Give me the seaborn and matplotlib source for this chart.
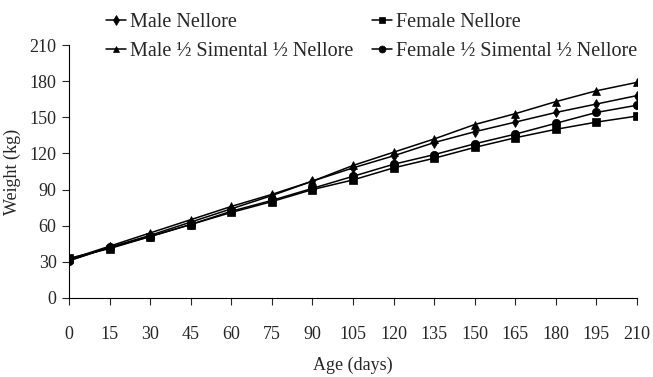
import matplotlib
matplotlib.use("Agg")
import matplotlib.pyplot as plt
import seaborn as sns
import pandas as pd

ages = [0, 15, 30, 45, 60, 75, 90, 105, 120, 135, 150, 165, 180, 195, 210]
male_nellore = [31, 42, 52, 63, 74, 85, 97, 108, 118, 129, 138, 146, 154, 161, 168]
female_nellore = [33, 41, 51, 61, 71, 80, 90, 98, 108, 116, 125, 133, 140, 146, 151]
male_sim = [32, 43, 54, 65, 76, 86, 97, 110, 121, 132, 144, 153, 163, 172, 179]
female_sim = [31, 42, 51, 61, 72, 81, 91, 101, 111, 119, 128, 136, 145, 154, 160]
series_names = ["Male Nellore", "Female Nellore",
                "Male \u00bd Simental \u00bd Nellore", "Female \u00bd Simental \u00bd Nellore"]
yticks = [0, 30, 60, 90, 120, 150, 180, 210]

rows = []
for name, vals in zip(series_names, [male_nellore, female_nellore, male_sim, female_sim]):
    for a, v in zip(ages, vals):
        rows.append({"Age": a, "Weight": v, "Series": name})
df = pd.DataFrame(rows)

sns.set_style("white")
plt.rcParams["font.family"] = ["Liberation Serif", "DejaVu Serif"]

fig = plt.figure(figsize=(6.53, 3.77), dpi=100)
ax = fig.add_axes([69/653, 79/377, 568/653, 253/377])

markers = {series_names[0]: "d", series_names[1]: "s",
           series_names[2]: "^", series_names[3]: "o"}
sns.lineplot(data=df, x="Age", y="Weight", hue="Series", style="Series",
             palette=["black"]*4, markers=markers, dashes=False,
             markersize=6, markeredgecolor="black", markeredgewidth=0.5,
             linewidth=1.1, ax=ax, legend=True)
for ln in ax.lines:
    if ln.get_marker() == "d":
        ln.set_markersize(5)

ax.set_xlim(0, 210)
ax.set_ylim(0, 210)
ax.set_xticks(ages)
ax.set_yticks(yticks)
ax.tick_params(axis="x", direction="out", length=5, width=0.8, pad=15, labelsize=13, bottom=True)
ax.tick_params(axis="y", direction="out", length=5, width=0.8, pad=4, labelsize=13, left=True)
for s in ["top", "right"]:
    ax.spines[s].set_visible(False)
for s in ["left", "bottom"]:
    ax.spines[s].set_color("black")
    ax.spines[s].set_linewidth(0.8)
ax.set_xlabel("Age (days)", fontsize=13, labelpad=10)
ax.set_ylabel("Weight (kg)", fontsize=13, labelpad=6)

handles, labels = ax.get_legend_handles_labels()
ax.get_legend().remove()
hd = dict(zip(labels, handles))
order = [series_names[0], series_names[2], series_names[1], series_names[3]]
for h in handles:
    h.set_markersize(5)
fig.legend([hd[k] for k in order], order, ncol=2, loc="upper left",
           bbox_to_anchor=(94/653, 0.997),
           frameon=False, fontsize=14.5, handlelength=1.0, handletextpad=0.2,
           columnspacing=0.9, labelspacing=0.5, borderaxespad=0.2)

fig.savefig("out.png", dpi=100)
